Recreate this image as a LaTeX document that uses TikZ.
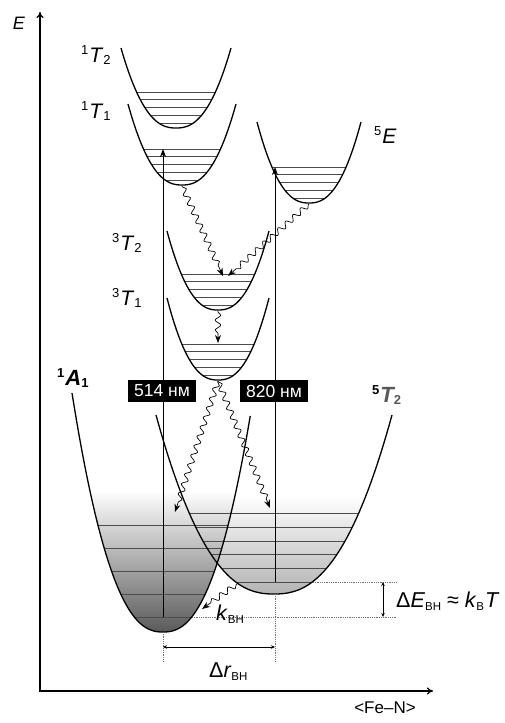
\documentclass[tikz,border=0pt]{standalone}
\usepackage{fontspec}
\setmainfont{Liberation Sans}
\usetikzlibrary{arrows.meta,decorations.pathmorphing}
\tikzset{
  well/.style={line width=1.3pt},
  lvl/.style={black!70,line width=0.7pt},
  axis/.style={{To[length=6pt,width=7pt]}-{To[length=6pt,width=7pt]},line width=1.3pt},
  trans/.style={-{Stealth[length=8pt,width=6pt]},line width=0.8pt},
  relax/.style={-{Stealth[length=8pt,width=6pt]},line width=0.7pt,decorate,
    decoration={snake,amplitude=2.8pt,segment length=10pt,pre length=1pt,post length=7pt}},
  guide/.style={densely dotted,black!55,line width=0.8pt},
  dim/.style={{Stealth[length=4pt,width=3.5pt]}-{Stealth[length=4pt,width=3.5pt]},line width=0.6pt},
  term/.style={font=\fontsize{21}{21}\selectfont,inner sep=0pt,anchor=base west},
  wl/.style={fill=black,text=white,font=\fontsize{17.5}{17.5}\selectfont,minimum width=68pt,minimum height=22pt,inner sep=0pt},
  note/.style={font=\fontsize{21.5}{21.5}\selectfont,inner sep=0pt,anchor=base west},
}
% one potential well: vertex x, vertex y, half width, depth
\newcommand\wellpath[4]{plot[domain=-1:1,samples=80] ({#1+#3*\x},{#2-#4*abs(\x)^2.4})}
\newcommand\lbl[3]{\raisebox{8pt}{\fontsize{13}{13}\selectfont #1}\kern1pt\textit{#2}\raisebox{-2pt}{\fontsize{13}{13}\selectfont #3}}
\newcommand\sub[1]{\raisebox{-3pt}{\fontsize{11.5}{11.5}\selectfont #1}}

\begin{document}
\begin{tikzpicture}[x=1pt,y=-1pt]
 \useasboundingbox (0,0) rectangle (504,723);
 % axes
 \coordinate (Etop) at (40,12);
 \coordinate (Rend) at (433,691);
 \draw[axis] (Etop) |- (Rend);
 \node[font=\fontsize{18}{18}\selectfont\itshape] (Elbl) at (19,23) {E};
 \node[font=\fontsize{17}{17}\selectfont] (Rlbl) at (385,708) {<Fe--N>};

 % excited wells with levels
 \foreach \n/\vx/\vy/\w/\d in {t12/176/128/55/80,t11/182/185/54/81,e5/309/203/52/81,t32/218/310/51/79,t31/218/380/51/82}{
   \begin{scope}
     \clip \wellpath{\vx}{\vy}{\w}{\d} -- cycle;
     \foreach \i in {0,...,4}
       \draw[lvl] ({\vx-\w},{\vy-36+7.8*\i}) -- ++({2*\w},0);
   \end{scope}
   \draw[well] \wellpath{\vx}{\vy}{\w}{\d};
   \coordinate (\n-bot) at (\vx,{\vy+1});
 }

 % ground wells, shaded
 \begin{scope}
   \clip \wellpath{274}{594}{118}{179} -- cycle;
   \shade[top color=white,bottom color=black!30] (150,495) rectangle (400,595);
 \end{scope}
 \begin{scope}
   \clip \wellpath{163}{632}{91}{239} -- cycle;
   \shade[top color=white,bottom color=black!65] (70,490) rectangle (260,633);
 \end{scope}
 \begin{scope}
   \clip \wellpath{274}{594}{118}{179} -- cycle;
   \foreach \yy in {513,527,541,554,568,582}
     \draw[lvl] (150,\yy) -- (400,\yy);
 \end{scope}
 \begin{scope}
   \clip \wellpath{163}{632}{91}{239} -- cycle;
   \foreach \yy in {525,548,571,594,617}
     \draw[lvl] (70,\yy) -- (260,\yy);
 \end{scope}
 \draw[well] \wellpath{274}{594}{118}{179};
 \draw[well] plot[domain=-1:0.96,samples=80] ({163+91*\x},{632-239*abs(\x)^2.4});

 % optical transitions
 \coordinate (a1-lo) at (163,617);
 \coordinate (t11-hi) at (163,149);
 \coordinate (t52-lo) at (275,582);
 \coordinate (e5-hi) at (275,167);
 \draw[trans] (a1-lo) -- (t11-hi);
 \draw[trans] (t52-lo) -- (e5-hi);
 \node[wl] (nm514) at (162,391) {514 нм};
 \node[wl] (nm820) at (274,391) {820 нм};

 % relaxation
 \coordinate (t32-hi) at (223,276);
 \coordinate (t32-hi2) at (228,276);
 \coordinate (t31-hi) at (218,343);
 \coordinate (a1-hi) at (175,512);
 \coordinate (t52-hi) at (270,508);
 \coordinate (k-from) at (237,584);
 \coordinate (k-to) at (202,609);
 \draw[relax] (t11-bot) -- (t32-hi);
 \draw[relax] (e5-bot) -- (t32-hi2);
 \draw[relax] (t32-bot) -- (t31-hi);
 \draw[relax] (t31-bot) -- (a1-hi);
 \draw[relax] (t31-bot) -- (t52-hi);
 \draw[relax] (k-from) -- (k-to);

 % energy gap and distance
 \coordinate (a1-arm) at (192,617);
 \coordinate (t52-arm) at (313,582);
 \coordinate (dE-lo) at (397,617);
 \coordinate (dE-hi) at (397,582);
 \coordinate (a1-foot) at (163,632);
 \coordinate (t52-foot) at (275,594);
 \coordinate (a1-end) at (163,662);
 \coordinate (t52-end) at (275,662);
 \draw[guide] (a1-arm) -- (dE-lo);
 \draw[guide] (t52-arm) -- (dE-hi);
 \draw[guide] (a1-foot) -- (a1-end);
 \draw[guide] (t52-foot) -- (t52-end);
 \draw[dim] (383,582) -- (383,617);
 \draw[dim] (163,647) -- (275,647);

 % labels
 \node[term] (l12) at (81,62) {\lbl{1}{T}{2}};
 \node[term] (l11) at (81,118) {\lbl{1}{T}{1}};
 \node[term] (l5e) at (374,143) {\lbl{5}{E}{}};
 \node[term] (l32) at (112,250) {\lbl{3}{T}{2}};
 \node[term] (l31) at (112,305) {\lbl{3}{T}{1}};
 \node[term,font=\fontsize{22}{22}\selectfont\bfseries] (la1) at (57,385) {\lbl{1}{A}{1}};
 \node[term,font=\fontsize{22}{22}\selectfont\bfseries] (l52) at (372,402) {\lbl{5}{\color{black!65}T}{\color{black!65}2}};
 \node[note] (kbh) at (216,620) {\textit{k}\sub{ВН}};
 \node[note] (drbh) at (209,677) {Δ\textit{r}\sub{ВН}};
 \node[note] (debh) at (396,607) {Δ\textit{E}\sub{ВН} ≈ \textit{k}\sub{B}\kern1pt\textit{T}};
\end{tikzpicture}
\end{document}
